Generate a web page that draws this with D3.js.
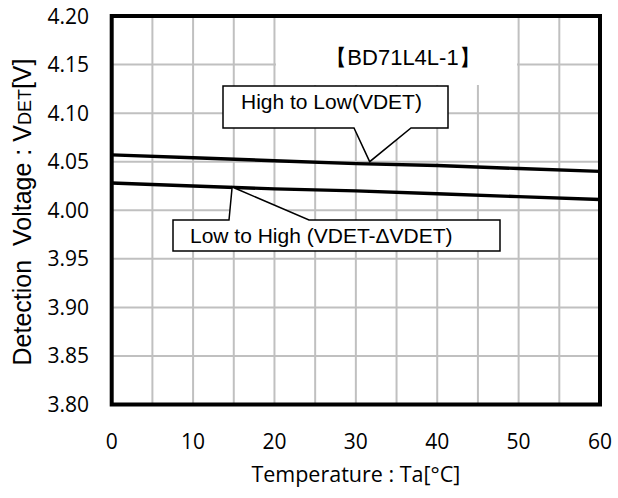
<!DOCTYPE html>
<html>
<head>
<meta charset="utf-8">
<script src="https://cdn.jsdelivr.net/npm/d3@7"></script>
<style>
  body { margin: 0; background: #fff; }
  svg text { white-space: pre; }
</style>
</head>
<body>
<svg id="chart"></svg>
<script>
// data
const temps       = [0, 10, 20, 30, 40, 50, 60]
const highToLow   = [4.057, 4.054, 4.051, 4.048, 4.046, 4.043, 4.040]
const lowToHigh   = [4.028, 4.025, 4.022, 4.020, 4.017, 4.014, 4.011]
const xTicks      = [0, 10, 20, 30, 40, 50, 60]
const xGrid       = [5, 10, 15, 20, 25, 30, 35, 40, 45, 50, 55]
const yTicks      = [3.80, 3.85, 3.90, 3.95, 4.00, 4.05, 4.10, 4.15, 4.20]
const chipName    = '【BD71L4L-1】'
const htlLabel    = 'High to Low(VDET)'
const lthLabel    = 'Low to High (VDET-ΔVDET)'
const htlTip      = [31.7, 4.050]
const lthTip      = [14.8, 4.024]

const W = 618, H = 498
const M = { left: 111.7, right: 600, top: 16, bottom: 404.5 }

const svg = d3.select('#chart').attr('width', W).attr('height', H)

const x = d3.scaleLinear().domain([0, 60]).range([M.left, M.right])
const y = d3.scaleLinear().domain([3.80, 4.20]).range([M.bottom, M.top])

// grid
const grid = svg.append('g').attr('stroke', '#c0c0c0').attr('stroke-width', 2)
grid.selectAll('line.v')
  .data(xGrid)
  .join('line')
    .attr('class', 'v')
    .attr('x1', d => x(d)).attr('x2', d => x(d))
    .attr('y1', M.top).attr('y2', M.bottom)
grid.selectAll('line.h')
  .data(yTicks.slice(1, -1))
  .join('line')
    .attr('class', 'h')
    .attr('x1', M.left).attr('x2', M.right)
    .attr('y1', d => y(d)).attr('y2', d => y(d))

// white patch behind the part name
svg.append('rect')
  .attr('x', 276).attr('y', M.top + 2)
  .attr('width', 241).attr('height', 67)
  .attr('fill', '#fff')

svg.append('text')
  .attr('x', 403).attr('y', 65)
  .attr('text-anchor', 'middle')
  .attr('font-family', 'Liberation Sans, Arial, sans-serif')
  .attr('font-size', '22px')
  .text(chipName)

// series
const line = d3.line().x((d, i) => x(temps[i])).y(d => y(d))
const lines = svg.append('g').attr('fill', 'none').attr('stroke', '#000').attr('stroke-width', 3.4)
lines.append('path').attr('d', line(highToLow))
lines.append('path').attr('d', line(lowToHigh))

// callouts
const callouts = svg.append('g')
  .attr('fill', '#fff').attr('stroke', '#000').attr('stroke-width', 1.5)

const ht = [x(htlTip[0]), y(htlTip[1])]
callouts.append('path')
  .attr('d', `M223,86H448V128H411L${ht[0]},${ht[1]}L354,128H223Z`)
const lt = [x(lthTip[0]), y(lthTip[1])]
callouts.append('path')
  .attr('d', `M173,220H229L${lt[0]},${lt[1]}L309,220H500V251H173Z`)

const ann = svg.append('g')
  .attr('font-family', 'Liberation Sans, Arial, sans-serif')
  .attr('font-size', '21px')
ann.append('text').attr('x', 241).attr('y', 109).text(htlLabel)
ann.append('text').attr('x', 190).attr('y', 243).text(lthLabel)

// frame
svg.append('rect')
  .attr('x', M.left).attr('y', M.top)
  .attr('width', M.right - M.left).attr('height', M.bottom - M.top)
  .attr('fill', 'none').attr('stroke', '#000').attr('stroke-width', 4)

// tick labels
const tickFont = 'Open Sans, sans-serif'
svg.append('g')
  .selectAll('text')
  .data(yTicks)
  .join('text')
    .attr('x', 89)
    .attr('y', d => y(d))
    .attr('dy', '0.36em')
    .attr('text-anchor', 'end')
    .attr('font-family', tickFont)
    .attr('font-size', '21px')
    .text(d => d.toFixed(2))

svg.append('g')
  .selectAll('text')
  .data(xTicks)
  .join('text')
    .attr('x', d => x(d))
    .attr('y', 449)
    .attr('text-anchor', 'middle')
    .attr('font-family', tickFont)
    .attr('font-size', '21px')
    .text(d => d)

// axis titles
svg.append('text')
  .attr('x', (M.left + M.right) / 2)
  .attr('y', 482)
  .attr('text-anchor', 'middle')
  .attr('font-family', tickFont)
  .attr('font-size', '21.5px')
  .text('Temperature : Ta[°C]')

const yt = svg.append('text')
  .attr('transform', `translate(31,212) rotate(-90)`)
  .attr('text-anchor', 'middle')
  .attr('font-family', 'Liberation Sans, Arial, sans-serif')
  .attr('font-size', '25px')
yt.append('tspan').text('Detection  Voltage : V')
yt.append('tspan').attr('font-size', '18px').text('DET')
yt.append('tspan').text('[V]')
</script>
</body>
</html>
